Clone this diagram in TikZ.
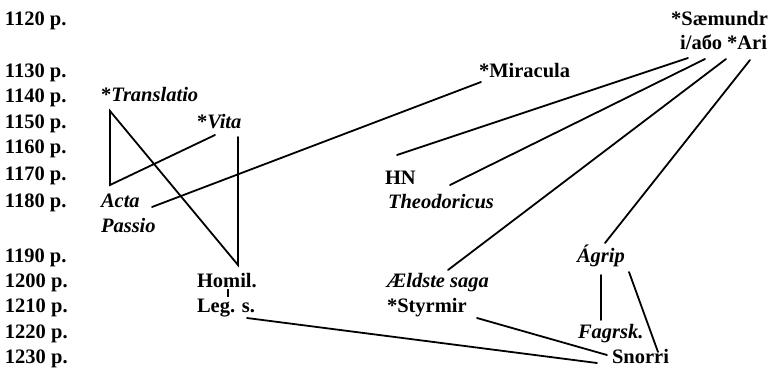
\documentclass[tikz,border=0pt]{standalone}
\usepackage{fontspec}
\setmainfont{Liberation Serif}
\begin{document}
\begin{tikzpicture}[x=1pt,y=-1pt,
  lbl/.style={anchor=base west,inner sep=0pt,outer sep=0pt,font=\fontsize{20.5}{24}\selectfont\bfseries},
  rlbl/.style={lbl,anchor=base east},
  ln/.style={line width=1.8pt,line cap=round,line join=miter}]
\useasboundingbox (0,0) rectangle (771,370);
% year column
\node[lbl] (y1120) at (5,25) {1120 р.};
\node[lbl] (y1130) at (5,77) {1130 р.};
\node[lbl] (y1140) at (5,102) {1140 р.};
\node[lbl] (y1150) at (5,128) {1150 р.};
\node[lbl] (y1160) at (5,153) {1160 р.};
\node[lbl] (y1170) at (5,180) {1170 р.};
\node[lbl] (y1180) at (5,207) {1180 р.};
\node[lbl] (y1190) at (5,262) {1190 р.};
\node[lbl] (y1200) at (5,287) {1200 р.};
\node[lbl] (y1210) at (5,312) {1210 р.};
\node[lbl] (y1220) at (5,338) {1220 р.};
\node[lbl] (y1230) at (5,363) {1230 р.};
% texts
\node[lbl] (transl) at (101,101) {*\textit{Translatio}};
\node[lbl] (vita) at (197,128) {*\textit{Vita}};
\node[lbl] (acta) at (101,207) {\textit{Acta}};
\node[lbl] (passio) at (101,232) {\textit{Passio}};
\node[lbl] (homil) at (197,287) {Homil.};
\node[lbl] (legs) at (197,312) {Leg. s.};
\node[lbl] (mirac) at (479,77) {*Miracula};
\node[rlbl] (saem) at (768,25) {*Sæmundr};
\node[rlbl] (ari) at (767,49) {і/або *Ari};
\node[lbl] (hn) at (385,184) {HN};
\node[lbl] (theod) at (388,208) {\textit{Theodoricus}};
\node[lbl] (aeld) at (387,287) {\textit{Ældste saga}};
\node[lbl] (styr) at (387,312) {*Styrmir};
\node[lbl] (agrip) at (577,262) {\textit{Ágrip}};
\node[lbl] (fagr) at (578,338) {\textit{Fagrsk.}};
\node[lbl] (snorri) at (612,363) {Snorri};
% connector end points
\coordinate (tTop) at (110,111);
\coordinate (tBot) at (110,185);
\coordinate (vEnd) at (215,135);
\coordinate (vTop) at (238,137);
\coordinate (hTop) at (238,265);
\coordinate (aEnd) at (152,207);
\coordinate (mEnd) at (481,82);
\coordinate (hTick) at (228,289);
\coordinate (lTick) at (228,297);
\coordinate (lEnd) at (247,318);
\coordinate (sL) at (597,363);
\coordinate (sM) at (607,355);
\coordinate (sR) at (658,352);
\coordinate (stEnd) at (477,318);
\coordinate (a1) at (688,58);
\coordinate (a2) at (705,59);
\coordinate (a3) at (726,59);
\coordinate (a4) at (750,60);
\coordinate (hnEnd) at (397,155);
\coordinate (thEnd) at (450,185);
\coordinate (aeEnd) at (448,270);
\coordinate (agTop) at (605,243);
\coordinate (agB1) at (601,275);
\coordinate (fTop) at (601,320);
\coordinate (agB2) at (629,272);
% connectors
\draw[ln] (vEnd) -- (tBot) -- (tTop) -- (hTop) -- (vTop);
\draw[ln] (aEnd) -- (mEnd);
\draw[line width=1.2pt] (hTick) -- (lTick);
\draw[ln] (lEnd) -- (sL);
\draw[ln] (stEnd) -- (sM);
\draw[ln] (a1) -- (hnEnd);
\draw[ln] (a2) -- (thEnd);
\draw[ln] (a3) -- (aeEnd);
\draw[ln] (a4) -- (agTop);
\draw[ln] (agB1) -- (fTop);
\draw[ln] (agB2) -- (sR);
\end{tikzpicture}
\end{document}
